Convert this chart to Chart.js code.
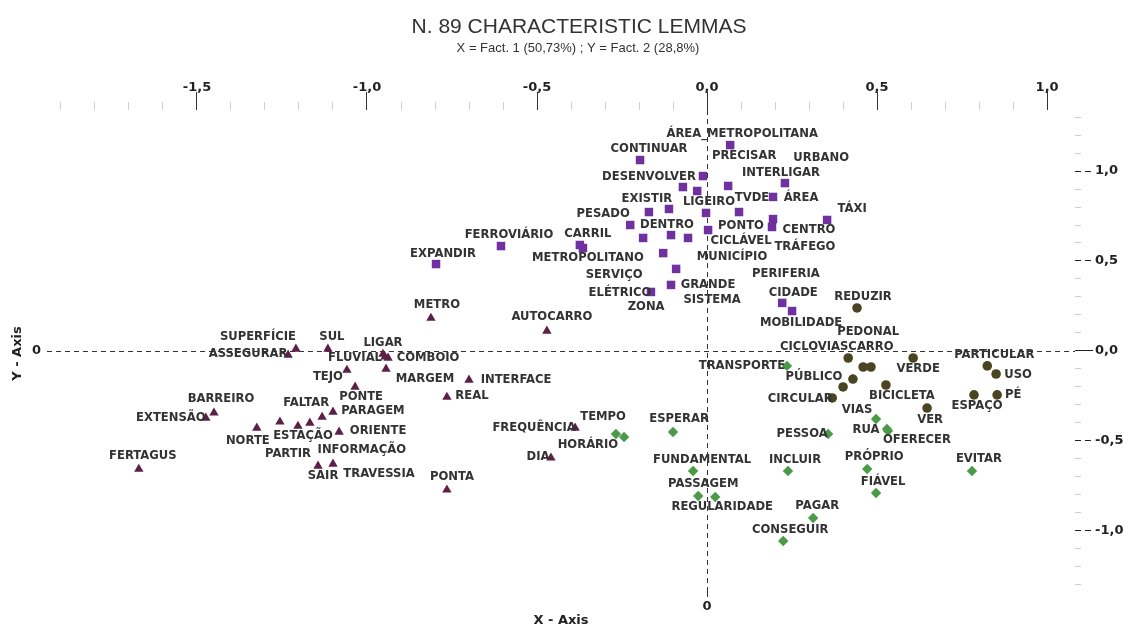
<!DOCTYPE html>
<html><head><meta charset="utf-8">
<script src="https://cdn.jsdelivr.net/npm/chart.js@4.4.1/dist/chart.umd.min.js"></script>
<style>html,body{margin:0;padding:0;background:#fff;}#wrap{width:1124px;height:628px;}</style>
</head><body><div id="wrap"><canvas id="c" width="1124" height="628"></canvas></div>
<script>
// ---------- texts ----------
const titleText = 'N. 89 CHARACTERISTIC LEMMAS';
const subtitleText = 'X = Fact. 1 (50,73%) ; Y = Fact. 2 (28,8%)';
const xAxisTitle = 'X - Axis';
const yAxisTitle = 'Y - Axis';

// ---------- tick labels ----------
const xTickValues = [-1.5, -1.0, -0.5, 0, 0.5, 1.0];
const xTickLabels = ['-1,5', '-1,0', '-0,5', '0,0', '0,5', '1,0'];
const yTickValues = [-1.0, -0.5, 0, 0.5, 1.0];
const yTickLabels = ['-1,0', '-0,5', '0,0', '0,5', '1,0'];
const zeroLabel = '0';

// ---------- axis ranges ----------
const xMin = -1.941, xMax = 1.082;
const yMin = -1.367, yMax = 1.339;

// ---------- group 1 (squares) ----------
const squareLemmas = ['ÁREA_METROPOLITANA','CONTINUAR','DESENVOLVER','PERIFERIA','URBANO','PRECISAR','INTERLIGAR','TVDE','EXISTIR','TRÁFEGO','LIGEIRO','PONTO','TÁXI','ÁREA','CENTRO','PESADO','ZONA','DENTRO','MUNICÍPIO','CICLÁVEL','FERROVIÁRIO','CARRIL','METROPOLITANO','SERVIÇO','SISTEMA','GRANDE','ELÉTRICO','CIDADE','MOBILIDADE','EXPANDIR'];
const squareX = [0.068,-0.197,-0.012,-0.071,-0.029,0.062,0.229,0.194,-0.171,-0.112,-0.003,0.094,0.353,0.194,0.191,-0.226,-0.188,-0.106,-0.056,0.003,-0.606,-0.374,-0.365,-0.129,-0.091,-0.106,-0.165,0.221,0.250,-0.797];
const squareY = [1.144,1.061,0.972,0.911,0.889,0.917,0.933,0.856,0.772,0.789,0.767,0.772,0.728,0.733,0.689,0.700,0.628,0.644,0.628,0.672,0.583,0.589,0.572,0.544,0.456,0.367,0.328,0.267,0.222,0.483];

// ---------- group 2 (triangles) ----------
const triangleLemmas = ['METRO','AUTOCARRO','SUPERFÍCIE','SUL','ASSEGURAR','LIGAR','FLUVIAL','COMBOIO','MARGEM','TEJO','PONTE','INTERFACE','REAL','BARREIRO','EXTENSÃO','FERTAGUS','NORTE','PARTIR','ESTAÇÃO','INFORMAÇÃO','FALTAR','PARAGEM','ORIENTE','SAIR','TRAVESSIA','PONTA','FREQUÊNCIA','DIA'];
const triangleX = [-0.812,-0.471,-1.209,-1.115,-1.232,-0.953,-0.947,-0.938,-0.944,-1.059,-1.035,-0.700,-0.765,-1.450,-1.474,-1.671,-1.324,-1.256,-1.203,-1.168,-1.132,-1.100,-1.082,-1.144,-1.100,-0.765,-0.388,-0.459];
const triangleY = [0.183,0.111,0.011,0.011,-0.022,-0.017,-0.033,-0.039,-0.100,-0.106,-0.200,-0.161,-0.256,-0.344,-0.372,-0.656,-0.428,-0.394,-0.417,-0.400,-0.367,-0.339,-0.450,-0.639,-0.628,-0.772,-0.428,-0.594];

// ---------- group 3 (circles) ----------
const circleLemmas = ['REDUZIR','CICLOVIAS','PEDONAL','CARRO','PÚBLICO','','CIRCULAR','VERDE','BICICLETA','VER','PARTICULAR','USO','ESPAÇO','PÉ'];
const circleX = [0.441,0.415,0.459,0.482,0.429,0.400,0.368,0.606,0.526,0.647,0.824,0.850,0.785,0.853];
const circleY = [0.239,-0.039,-0.089,-0.089,-0.156,-0.200,-0.261,-0.039,-0.189,-0.317,-0.083,-0.128,-0.244,-0.244];

// ---------- group 4 (diamonds) ----------
const diamondLemmas = ['TRANSPORTE','TEMPO','HORÁRIO','ESPERAR','PESSOA','VIAS','RUA','OFERECER','FUNDAMENTAL','INCLUIR','PRÓPRIO','FIÁVEL','EVITAR','PASSAGEM','REGULARIDADE','PAGAR','CONSEGUIR'];
const diamondX = [0.235,-0.244,-0.268,-0.100,0.356,0.497,0.529,0.532,-0.041,0.238,0.471,0.497,0.779,-0.026,0.024,0.312,0.224];
const diamondY = [-0.083,-0.478,-0.461,-0.450,-0.461,-0.378,-0.433,-0.444,-0.667,-0.667,-0.656,-0.789,-0.667,-0.806,-0.811,-0.928,-1.056];

// ---------- label placement (pixel offsets from each marker, layout only) ----------
const squareLabelOffsets = [[12,-11],[9,-11],[-54,1],[103,87],[124,-33],[16,-30],[-4,-10],[-21,1],[-2,-13],[136,38],[3,-11],[2,14],[25,-11],[28,-21],[37,3],[-27,-11],[3,69],[-4,-10],[44,19],[33,11],[8,-11],[8,-11],[5,10],[-49,22],[36,31],[37,0],[-31,1],[11,-10],[9,12],[7,-10]];
const triangleLabelOffsets = [[6,-13],[5,-14],[-38,-12],[4,-12],[-40,-1],[0,-11],[-30,1],[40,0],[39,10],[-19,7],[6,10],[47,0],[25,-1],[7,-14],[-35,0],[4,-13],[-9,13],[8,32],[5,10],[52,27],[-16,-14],[40,-1],[39,-1],[5,10],[46,10],[5,-13],[-41,0],[-13,-1]];
const circleLabelOffsets = [[6,-11],[-34,-11],[5,-35],[0,-20],[-39,-2],[0,0],[-32,1],[5,11],[16,11],[3,12],[7,-11],[22,1],[3,11],[16,0]];
const diamondLabelOffsets = [[-45,0],[-21,-20],[-28,11],[6,-13],[-26,0],[-19,-9],[-21,1],[29,9],[9,-11],[7,-11],[7,-12],[7,-11],[7,-12],[5,-12],[7,10],[4,-12],[7,-11]];

// ---------- helpers ----------
const toPoints = (xs, ys) => xs.map((x, i) => ({x: x, y: ys[i]}));
const findTick = (v, arr) => arr.findIndex(m => Math.abs(m - v) < 1e-6);
const isMajor = (v) => Math.abs(v * 2 - Math.round(v * 2)) < 1e-6;

const FONT = "'DejaVu Sans', Verdana, sans-serif";
Chart.defaults.font.family = FONT;

const zeroLinesPlugin = {
  id: 'zeroLines',
  beforeDatasetsDraw(chart) {
    const {ctx, chartArea} = chart;
    const x0 = Math.round(chart.scales.x.getPixelForValue(0)) + 0.5;
    const y0 = Math.round(chart.scales.y.getPixelForValue(0)) + 0.5;
    ctx.save();
    ctx.strokeStyle = '#333';
    ctx.lineWidth = 1;
    ctx.setLineDash([5, 4]);
    ctx.beginPath();
    ctx.moveTo(chartArea.left, y0); ctx.lineTo(chartArea.right, y0);
    ctx.moveTo(x0, chartArea.top); ctx.lineTo(x0, chartArea.bottom - 10);
    ctx.stroke();
    ctx.setLineDash([]);
    ctx.beginPath();
    ctx.moveTo(x0, chartArea.bottom - 10); ctx.lineTo(x0, chartArea.bottom);
    ctx.stroke();
    ctx.restore();
  }
};

const pointLabelsPlugin = {
  id: 'pointLabels',
  afterDatasetsDraw(chart) {
    const ctx = chart.ctx;
    ctx.save();
    ctx.font = "bold 11.6px " + FONT;
    ctx.fillStyle = '#333';
    ctx.textAlign = 'center';
    ctx.textBaseline = 'middle';
    chart.data.datasets.forEach((ds, d) => {
      const meta = chart.getDatasetMeta(d);
      meta.data.forEach((el, i) => {
        const txt = ds.lemmas[i];
        if (!txt) return;
        const off = ds.labelOffsets[i];
        ctx.fillText(txt, el.x + off[0], el.y + off[1]);
      });
    });
    ctx.restore();
  }
};

const titlesPlugin = {
  id: 'titles',
  afterDraw(chart) {
    const ctx = chart.ctx;
    ctx.save();
    ctx.fillStyle = '#333';
    ctx.textAlign = 'center';
    ctx.textBaseline = 'middle';
    ctx.font = "21px 'Liberation Sans', Arial, sans-serif";
    ctx.fillText(titleText, 579, 27);
    ctx.font = "13px 'Liberation Sans', Arial, sans-serif";
    ctx.fillText(subtitleText, 578, 48);
    ctx.restore();
  }
};

const mkDataset = (lemmas, xs, ys, offsets, style, color, radius) => ({
  data: toPoints(xs, ys),
  lemmas: lemmas,
  labelOffsets: offsets,
  pointStyle: style,
  backgroundColor: color,
  borderColor: color,
  borderWidth: 0,
  pointRadius: radius,
  pointHoverRadius: radius,
  showLine: false
});

new Chart(document.getElementById('c'), {
  type: 'scatter',
  data: {
    datasets: [
      mkDataset(squareLemmas, squareX, squareY, squareLabelOffsets, 'rect', '#7030a0', 6),
      mkDataset(triangleLemmas, triangleX, triangleY, triangleLabelOffsets, 'triangle', '#5c1f46', 5.4),
      mkDataset(circleLemmas, circleX, circleY, circleLabelOffsets, 'circle', '#4a4520', 4.8),
      mkDataset(diamondLemmas, diamondX, diamondY, diamondLabelOffsets, 'rectRot', '#4a9a47', 5.2)
    ]
  },
  options: {
    responsive: false,
    animation: false,
    events: [],
    layout: {padding: {top: 63, left: 0, right: 0, bottom: 0}},
    plugins: {legend: {display: false}, tooltip: {enabled: false}, title: {display: false}},
    scales: {
      x: {
        type: 'linear', position: 'top', min: xMin, max: xMax,
        border: {display: false},
        grid: {
          drawOnChartArea: false, drawTicks: true, tickLength: 18,
          tickColor: c => isMajor(c.tick.value) ? '#333' : '#cfcfcf',
          tickBorderDash: c => isMajor(c.tick.value) ? [] : [8, 100],
          tickBorderDashOffset: c => isMajor(c.tick.value) ? 0 : -10
        },
        ticks: {
          stepSize: 0.1, includeBounds: false, autoSkip: false, maxRotation: 0, padding: -3,
          color: '#222', font: {size: 13, weight: 'bold'},
          callback: v => { const k = findTick(v, xTickValues); return k >= 0 ? xTickLabels[k] : ''; }
        },
        afterFit: s => { s.height = 47; }
      },
      x2: {
        type: 'linear', position: 'bottom', min: xMin, max: xMax,
        border: {display: false},
        grid: {display: false, drawTicks: false},
        ticks: {
          stepSize: 0.5, includeBounds: false, autoSkip: false, maxRotation: 0, padding: 2,
          color: '#222', font: {size: 13, weight: 'bold'},
          callback: v => Math.abs(v) < 1e-6 ? zeroLabel : ''
        },
        title: {display: true, text: xAxisTitle, color: '#222', font: {size: 13, weight: 'bold', lineHeight: 1.1}, padding: {top: 0, bottom: 0}},
        afterFit: s => { s.height = 31; }
      },
      y: {
        type: 'linear', position: 'right', min: yMin, max: yMax,
        border: {display: false},
        grid: {
          drawOnChartArea: false, drawTicks: true, tickLength: 18,
          tickColor: c => isMajor(c.tick.value) ? '#222' : '#cfcfcf',
          tickBorderDash: c => Math.abs(c.tick.value) < 1e-6 ? [] : (isMajor(c.tick.value) ? [6, 4] : [6, 100])
        },
        ticks: {
          stepSize: 0.1, includeBounds: false, autoSkip: false, padding: 2,
          color: '#222', font: {size: 13, weight: 'bold'},
          callback: v => { const k = findTick(v, yTickValues); return k >= 0 ? yTickLabels[k] : ''; }
        },
        afterFit: s => { s.width = 49; }
      },
      y2: {
        type: 'linear', position: 'left', min: yMin, max: yMax,
        border: {display: false},
        grid: {display: false, drawTicks: false},
        ticks: {
          stepSize: 0.5, includeBounds: false, autoSkip: false, padding: 6,
          color: '#222', font: {size: 13, weight: 'bold'},
          callback: v => Math.abs(v) < 1e-6 ? zeroLabel : ''
        },
        title: {display: true, text: yAxisTitle, color: '#222', font: {size: 13, weight: 'bold'}, padding: {top: 10, bottom: 0}},
        afterFit: s => { s.width = 47; }
      }
    }
  },
  plugins: [zeroLinesPlugin, pointLabelsPlugin, titlesPlugin]
});
</script>
</body></html>
